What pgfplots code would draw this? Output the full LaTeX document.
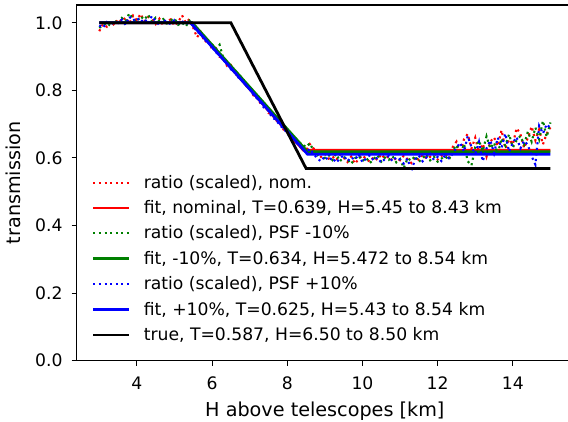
\documentclass[border=0pt]{standalone}
\usepackage{fontspec}
\setmainfont{DejaVu Sans}
\usepackage{pgfplots}
\pgfplotsset{compat=1.18}
\definecolor{mgreen}{rgb}{0,0.5,0}

\pgfplotstableread{
x y
3.0 0.975
3.1 0.996
3.2 0.988
3.3 1.004
3.4 0.993
3.5 1.011
3.6 1.003
3.7 1.016
3.8 0.998
3.9 1.021
4.0 1.008
4.1 1.026
4.2 1.004
4.3 1.017
4.4 1.009
4.5 0.996
4.6 1.012
4.7 0.992
4.8 1.004
4.9 1.010
5.0 0.991
5.1 1.002
5.2 1.022
5.3 1.000
5.4 1.011
5.5 0.985
5.6 0.957
5.7 0.972
5.8 0.943
5.9 0.950
6.0 0.921
6.1 0.925
6.2 0.899
6.3 0.897
6.4 0.872
6.5 0.875
6.6 0.848
6.7 0.846
6.8 0.833
6.9 0.812
7.0 0.809
7.1 0.785
7.2 0.782
7.3 0.758
7.4 0.760
7.5 0.733
7.6 0.729
7.7 0.711
7.8 0.705
7.9 0.684
8.0 0.680
8.1 0.662
8.2 0.648
8.3 0.640
8.4 0.632
8.5 0.622
8.6 0.641
8.7 0.628
8.8 0.615
8.9 0.603
9.0 0.612
9.1 0.598
9.2 0.605
9.3 0.593
9.4 0.610
9.5 0.601
9.6 0.588
9.7 0.604
9.8 0.583
9.9 0.597
10.0 0.608
10.1 0.596
10.2 0.589
10.3 0.603
10.4 0.594
10.5 0.611
10.6 0.598
10.7 0.605
10.8 0.590
10.9 0.600
11.0 0.593
11.1 0.607
11.2 0.596
11.3 0.585
11.4 0.602
11.5 0.594
11.6 0.610
11.7 0.598
11.8 0.603
11.9 0.621
12.0 0.595
12.1 0.606
12.2 0.612
12.3 0.598
12.4 0.632
12.5 0.648
12.6 0.612
12.7 0.655
12.8 0.671
12.9 0.628
13.0 0.660
13.1 0.615
13.2 0.642
13.3 0.604
13.4 0.648
13.5 0.661
13.6 0.635
13.7 0.682
13.8 0.628
13.9 0.655
14.0 0.640
14.1 0.688
14.2 0.671
14.3 0.629
14.4 0.660
14.5 0.693
14.6 0.652
14.7 0.684
14.8 0.640
14.9 0.672
15.0 0.690
}\ratiored

\pgfplotstableread{
x y
3.0 0.985
3.1 0.992
3.2 1.000
3.3 0.990
3.4 1.008
3.5 0.996
3.6 1.014
3.7 1.004
3.8 1.028
3.9 1.010
4.0 1.003
4.1 1.019
4.2 1.009
4.3 1.024
4.4 1.002
4.5 1.015
4.6 1.004
4.7 1.011
4.8 0.998
4.9 1.007
5.0 1.013
5.1 0.994
5.2 1.001
5.3 0.989
5.4 1.006
5.5 0.992
5.6 0.978
5.7 0.964
5.8 0.959
5.9 0.943
6.0 0.936
6.1 0.922
6.2 0.935
6.3 0.895
6.4 0.886
6.5 0.869
6.6 0.862
6.7 0.846
6.8 0.838
6.9 0.819
7.0 0.812
7.1 0.796
7.2 0.786
7.3 0.772
7.4 0.760
7.5 0.748
7.6 0.733
7.7 0.722
7.8 0.708
7.9 0.697
8.0 0.684
8.1 0.671
8.2 0.661
8.3 0.648
8.4 0.640
8.5 0.632
8.6 0.643
8.7 0.622
8.8 0.608
8.9 0.618
9.0 0.600
9.1 0.609
9.2 0.594
9.3 0.612
9.4 0.590
9.5 0.603
9.6 0.596
9.7 0.582
9.8 0.599
9.9 0.606
10.0 0.591
10.1 0.600
10.2 0.585
10.3 0.597
10.4 0.608
10.5 0.589
10.6 0.601
10.7 0.594
10.8 0.605
10.9 0.587
11.0 0.597
11.1 0.570
11.2 0.599
11.3 0.592
11.4 0.606
11.5 0.588
11.6 0.600
11.7 0.611
11.8 0.593
11.9 0.604
12.0 0.589
12.1 0.598
12.2 0.605
12.3 0.594
12.4 0.622
12.5 0.638
12.6 0.609
12.7 0.642
12.8 0.590
12.9 0.578
13.0 0.632
13.1 0.651
13.2 0.620
13.3 0.664
13.4 0.628
13.5 0.645
13.6 0.612
13.7 0.658
13.8 0.636
13.9 0.670
14.0 0.631
14.1 0.652
14.2 0.665
14.3 0.640
14.4 0.678
14.5 0.648
14.6 0.690
14.7 0.655
14.8 0.710
14.9 0.662
15.0 0.705
}\ratiogreen

\pgfplotstableread{
x y
3.0 0.992
3.1 0.985
3.2 1.002
3.3 0.995
3.4 1.003
3.5 0.999
3.6 1.009
3.7 0.994
3.8 1.018
3.9 1.006
4.0 1.015
4.1 1.002
4.2 1.012
4.3 0.997
4.4 1.020
4.5 1.004
4.6 0.993
4.7 1.010
4.8 1.001
4.9 0.996
5.0 1.008
5.1 0.999
5.2 1.005
5.3 0.996
5.4 1.002
5.5 0.990
5.6 0.972
5.7 0.968
5.8 0.950
5.9 0.941
6.0 0.928
6.1 0.912
6.2 0.905
6.3 0.888
6.4 0.882
6.5 0.862
6.6 0.857
6.7 0.838
6.8 0.830
6.9 0.815
7.0 0.805
7.1 0.787
7.2 0.776
7.3 0.762
7.4 0.745
7.5 0.740
7.6 0.718
7.7 0.714
7.8 0.696
7.9 0.688
8.0 0.672
8.1 0.663
8.2 0.650
8.3 0.638
8.4 0.629
8.5 0.616
8.6 0.627
8.7 0.612
8.8 0.598
8.9 0.590
9.0 0.605
9.1 0.592
9.2 0.601
9.3 0.586
9.4 0.598
9.5 0.608
9.6 0.590
9.7 0.602
9.8 0.594
9.9 0.611
10.0 0.587
10.1 0.599
10.2 0.608
10.3 0.592
10.4 0.601
10.5 0.586
10.6 0.597
10.7 0.606
10.8 0.590
10.9 0.602
11.0 0.595
11.1 0.583
11.2 0.598
11.3 0.560
11.4 0.596
11.5 0.607
11.6 0.590
11.7 0.601
11.8 0.612
11.9 0.594
12.0 0.603
12.1 0.591
12.2 0.608
12.3 0.599
12.4 0.612
12.5 0.630
12.6 0.645
12.7 0.618
12.8 0.665
12.9 0.632
13.0 0.612
13.1 0.648
13.2 0.590
13.3 0.628
13.4 0.652
13.5 0.614
13.6 0.660
13.7 0.630
13.8 0.672
13.9 0.618
14.0 0.645
14.1 0.662
14.2 0.628
14.3 0.651
14.4 0.638
14.5 0.605
14.6 0.580
14.7 0.695
14.8 0.672
14.9 0.700
15.0 0.688
}\ratioblue

\begin{document}
\fontsize{17.2bp}{20.6bp}\selectfont
\begin{tikzpicture}
  \begin{axis}[
    scale only axis,
    width=496.3bp, height=355.7bp,
    xmin=2.4, xmax=15.6,
    ymin=0, ymax=1.0525,
    xtick={4,6,8,10,12,14},
    ytick={0,0.2,0.4,0.6,0.8,1.0},
    tick pos=left,
    tick align=outside,
    major tick length=5bp,
    every tick/.style={black, line width=1.1bp},
    axis line style={line width=1.1bp},
    /pgf/number format/assume math mode=true,
    yticklabel style={/pgf/number format/fixed, /pgf/number format/fixed zerofill,
      /pgf/number format/precision=1, anchor=east, inner sep=0pt, xshift=-9bp},
    xticklabel style={anchor=base, inner sep=0pt, yshift=-23.3bp},
    xlabel={H above telescopes [km]},
    ylabel={transmission},
    every axis x label/.style={at={([yshift=-56bp]rel axis cs:0.5,0)}, anchor=base, inner sep=0pt,
      font=\fontsize{19.2bp}{23bp}\selectfont},
    every axis y label/.style={at={([xshift=-56bp]rel axis cs:0,0.5)}, rotate=90, anchor=base, inner sep=0pt,
      font=\fontsize{19.2bp}{23bp}\selectfont},
    legend cell align=left,
    legend image code/.code={\draw[#1] (0bp,5.5bp) -- (36bp,5.5bp); \path (49bp,0bp);},
    legend style={draw=none, fill=none, at={(rel axis cs:0,0)}, anchor=south west,
      xshift=15.3bp, yshift=16.6bp, inner sep=0pt, outer sep=0pt, row sep=8.9bp,
      nodes={inner sep=0pt, text height=12.9bp, text depth=3.6bp, anchor=base west}},
  ]
    % ratio curves (dotted) and fits (solid)
    \addplot[red, line width=2.1bp, dash pattern=on 2.1bp off 3.5bp] table {\ratiored};
    \addlegendentry{ratio (scaled), nom.}
    \addplot[red, line width=2.8bp] coordinates {(3,1) (5.45,1) (8.43,0.623) (15,0.623)};
    \addlegendentry{fit, nominal, T=0.639, H=5.45 to 8.43 km}
    \addplot[mgreen, line width=2.1bp, dash pattern=on 2.1bp off 3.5bp] table {\ratiogreen};
    \addlegendentry{ratio (scaled), PSF -10\%}
    \addplot[mgreen, line width=2.8bp] coordinates {(3,1) (5.472,1) (8.54,0.618) (15,0.618)};
    \addlegendentry{fit, -10\%, T=0.634, H=5.472 to 8.54 km}
    \addplot[blue, line width=2.1bp, dash pattern=on 2.1bp off 3.5bp] table {\ratioblue};
    \addlegendentry{ratio (scaled), PSF +10\%}
    \addplot[blue, line width=2.8bp] coordinates {(3,1) (5.43,1) (8.54,0.611) (15,0.611)};
    \addlegendentry{fit, +10\%, T=0.625, H=5.43 to 8.54 km}
    % true profile
    \addplot[black, line width=2.8bp] coordinates {(3,1) (6.5,1) (8.5,0.569) (15,0.569)};
    \addlegendentry{true, T=0.587, H=6.50 to 8.50 km}
  \end{axis}
  \pgfresetboundingbox
  \path[use as bounding box] (-76.7bp,-61.3bp) rectangle (491.3bp,360.7bp);
\end{tikzpicture}
\end{document}
